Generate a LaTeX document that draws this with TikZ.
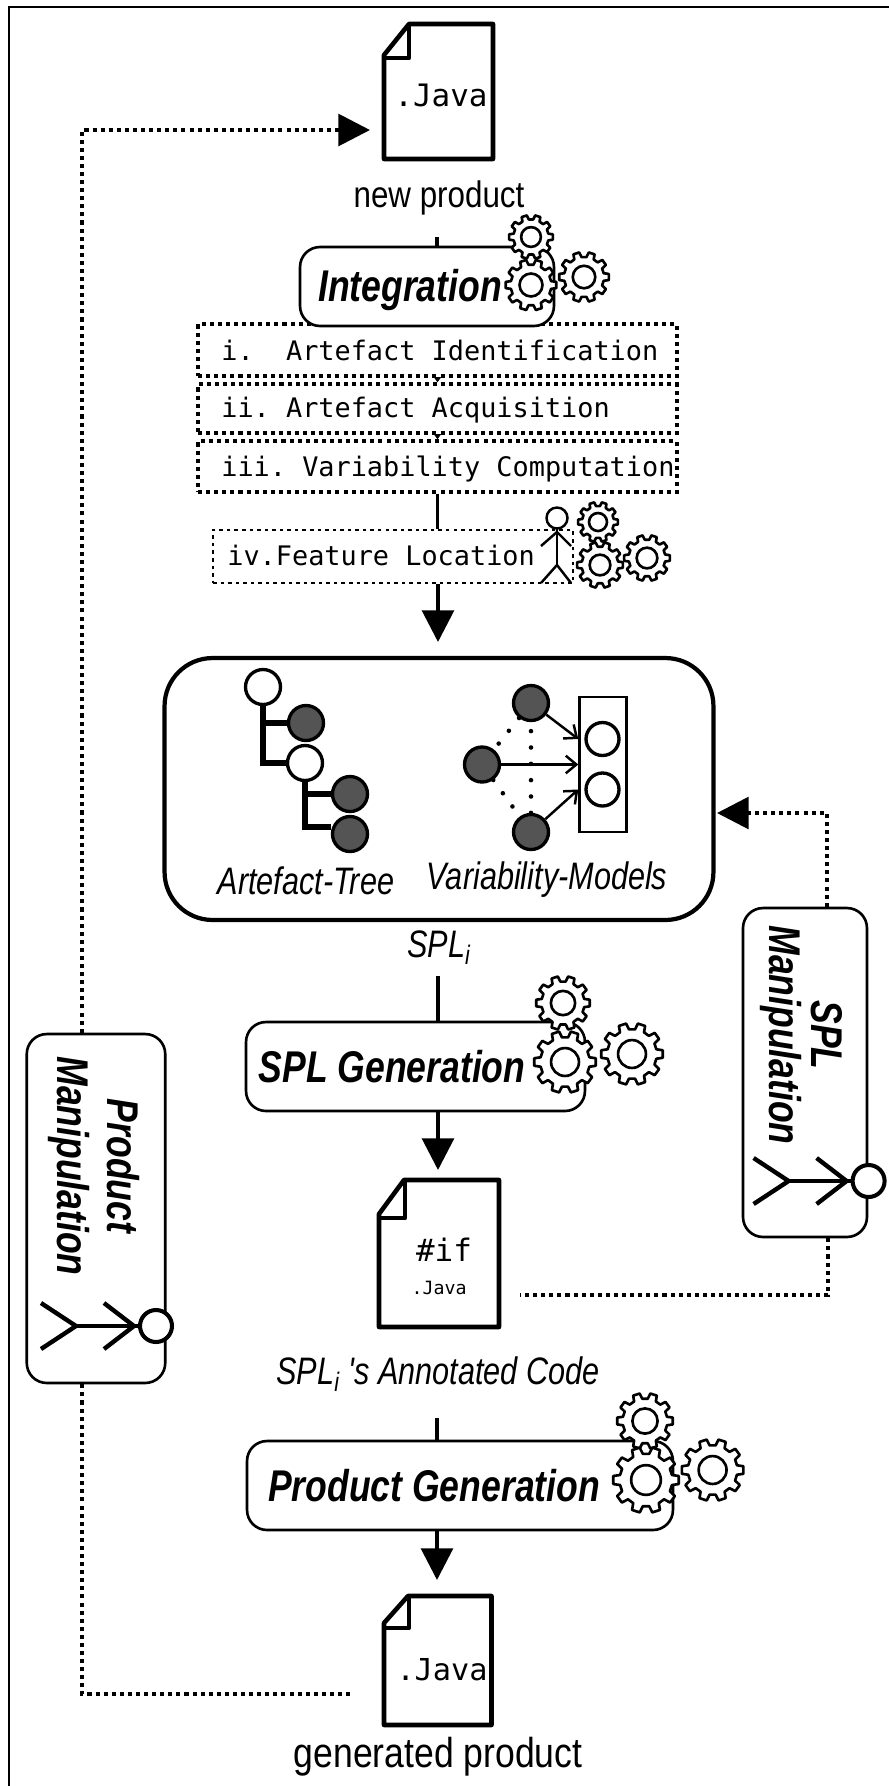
\documentclass[tikz,border=0pt]{standalone}
\usepackage{fontspec}
\usepackage{tikz}
\usetikzlibrary{positioning, calc, arrows.meta}
\newfontfamily\labfont[FakeStretch=0.8]{Liberation Sans}
\newfontfamily\plainfont[FakeStretch=0.85]{Liberation Sans}
\newfontfamily\codefont{DejaVu Sans Mono}
\frenchspacing

\tikzset{
    flowline/.style={line width=2.2pt},
    bigarrow/.style={flowline, -{Triangle[length=18pt,width=18pt]}},
    dotline/.style={line width=2.8pt, dash pattern=on 2.3pt off 2.3pt},
    procbox/.style={draw, fill=white, rounded corners=0.4cm, line width=1.5pt},
    stepbox/.style={draw, line width=1.9pt, dash pattern=on 2.3pt off 2.3pt},
    docline/.style={line width=2.6pt, line join=round},
    boldlab/.style={inner sep=0pt, align=center, font=\labfont\bfseries\itshape\fontsize{25.3}{28.5}\selectfont},
    itlab/.style={inner sep=0pt, font=\labfont\itshape\fontsize{21.8}{24}\selectfont},
    plainlab/.style={inner sep=0pt, font=\plainfont\fontsize{21}{24}\selectfont},
    steplab/.style={inner sep=0pt, anchor=west, font=\codefont\fontsize{15.3}{18}\selectfont},
    ball/.style={draw, circle, fill=ballgray, line width=1.9pt, minimum size=0.7cm, inner sep=0pt},
    hole/.style={ball, fill=white},
    gear/.pic={
        \draw[line width=1.5pt, fill=white, line join=round]
            (-25:0.8)
            \foreach \a in {0,36,...,324} {
                -- (\a-11:0.8) -- (\a-7:1) -- (\a+7:1) -- (\a+11:0.8) -- (\a+25:0.8)
            } -- cycle;
        \draw[line width=1.5pt] (0,0) circle (0.45);
    },
    actor/.pic={
        \draw[line width=2.5pt] (-16,0) -- (-80,0);
        \draw[line width=2.5pt] (-115,-23) -- (-80,0) -- (-115,23);
        \draw[line width=2.5pt] (-52,-23) -- (-22,0) -- (-52,23);
        \draw[line width=2.3pt, fill=white] (0,0) circle (16);
    }
}
\definecolor{ballgray}{gray}{0.33}

\begin{document}
\begin{tikzpicture}[x=0.02cm, y=-0.02cm]
    \useasboundingbox (0,0) rectangle (889,1786);

    % the frame
    \draw[line width=0.6pt] (9,1786) -- (9,7) -- (889,7);

    % new product file
    \draw[docline] (409,24) -- (493,24) -- (493,159) -- (384,159) -- (384,55) -- cycle;
    \draw[docline] (409,24) -- (409,58) -- (384,58);
    \node[inner sep=0pt, font=\codefont\fontsize{17.6}{20}\selectfont] (newjava) at (441,95) {.Java};
    \node[plainlab] (newlab) at (439,198) {new product};

    % integration steps
    \node[stepbox, minimum width=9.58cm, minimum height=1.04cm] (artid) at (437.5,350) {};
    \node[stepbox, minimum width=9.58cm, minimum height=0.98cm] (artacq) at (437.5,408.5) {};
    \node[stepbox, minimum width=9.58cm, minimum height=1.02cm] (varcomp) at (437.5,466.5) {};
    \node[stepbox, line width=1.6pt, dash pattern=on 2pt off 2.3pt, minimum width=7.2cm, minimum height=1.06cm] (featloc) at (393,556.5) {};
    \node[steplab] (artidlab) at (221,350) {i.~~Artefact Identification};
    \node[steplab] (artacqlab) at (221,410) {ii. Artefact Acquisition};
    \node[steplab] (varcomplab) at (221,469) {iii. Variability Computation};
    \node[steplab] (featloclab) at (227,555) {iv.Feature Location};
    \draw[line width=0.9pt, -{Triangle[length=3pt,width=4pt]}] (artid.south) -- (artacq.north);
    \draw[line width=0.9pt, -{Triangle[length=3pt,width=4pt]}] (artacq.south) -- (varcomp.north);

    % integration
    \coordinate (integin) at (437,237);
    \node[procbox, minimum width=5.08cm, minimum height=1.58cm] (integ) at (427,286.5) {};
    \node[boldlab] (integlab) at (410,290) {Integration};
    \draw[flowline] (integin) -- (integin |- integ.north);
    \pic[scale=22] at (531,237) {gear};
    \pic[scale=25.5] at (531,285) {gear};
    \pic[scale=25] at (584,277) {gear};

    % person and gears of feature location
    \draw[line width=1.4pt] (557,528) -- (557,565);
    \draw[line width=1.4pt] (541,546) -- (557,532) -- (571,546);
    \draw[line width=1.4pt] (541,583) -- (557,565) -- (571,583);
    \draw[line width=1.4pt] (557,518) circle (10.5);
    \pic[scale=20] at (598,522) {gear};
    \pic[scale=23] at (600,565) {gear};
    \pic[scale=23] at (647,558) {gear};

    \coordinate (coretip) at (438,642);
    \draw[flowline] (varcomp.south) -- (varcomp.south |- featloc.north);
    \draw[bigarrow] (coretip |- featloc.south) -- (coretip);

    % the product line
    \node[draw, line width=2.4pt, rounded corners=0.96cm, minimum width=10.98cm, minimum height=5.24cm] (core) at (439,789) {};

    % artefact tree
    \node[hole] (rootn) at (263,687) {};
    \node[ball] (leafa) at (306,723) {};
    \node[hole] (subn) at (305,763) {};
    \node[ball] (leafb) at (350,794) {};
    \node[ball] (leafc) at (350,834) {};
    \draw[line width=3.2pt] (rootn.south) |- (leafa.west);
    \draw[line width=3.2pt] (rootn.south) |- (subn.west);
    \draw[line width=3.2pt] (subn.south) |- (leafb.west);
    \draw[line width=3.2pt] (subn.south) |- ($(leafc.west)+(0,-7)$);
    \node[itlab] (treelab) at (306,881) {Artefact-Tree};

    % variability models
    \node[ball] (vtop) at (531,703) {};
    \node[ball] (vmid) at (482,764.5) {};
    \node[ball] (vbot) at (531,832) {};
    \node[draw, line width=1.4pt, minimum width=0.94cm, minimum height=2.71cm] (vrect) at (603,764.5) {};
    \node[hole, fill=white, minimum size=0.66cm] (vone) at (602.5,739) {};
    \node[hole, fill=white, minimum size=0.66cm] (vtwo) at (602.5,789.5) {};
    \draw[line width=2.6pt, line cap=round, dash pattern=on 0pt off 9.3pt] (vtop) -- (vmid) -- (vbot) -- (vtop);
    \draw[line width=1.4pt, -{Straight Barb[length=6pt,width=10pt]}] (vtop) -- (vrect.west |- vone);
    \draw[line width=1.4pt, -{Straight Barb[length=6pt,width=10pt]}] (vmid) -- (vmid -| vrect.west);
    \draw[line width=1.4pt, -{Straight Barb[length=6pt,width=10pt]}] (vbot) -- (vrect.west |- vtwo);
    \node[itlab] (modellab) at (547,880) {Variability-Models};

    \node[itlab] (spllab) at (439,948) {SPL\textsubscript{i}};

    % spl generation
    \coordinate (splin) at (438,976);
    \node[procbox, minimum width=6.78cm, minimum height=1.78cm] (splgen) at (415.5,1066.5) {};
    \node[boldlab] (splgenlab) at (392,1067) {SPL Generation};
    \draw[flowline] (splin) -- (splin |- splgen.north);
    \pic[scale=27] at (563,1003) {gear};
    \pic[scale=31] at (565,1062) {gear};
    \pic[scale=31] at (632,1054) {gear};
    \coordinate (annotip) at (438,1170);
    \draw[bigarrow] (annotip |- splgen.south) -- (annotip);

    % annotated code file
    \draw[docline] (404,1180) -- (499,1180) -- (499,1327) -- (379,1327) -- (379,1214) -- cycle;
    \draw[docline] (405,1180) -- (405,1218) -- (379,1218);
    \node[inner sep=0pt, font=\codefont\fontsize{17.6}{20}\selectfont] (iflab) at (444,1250) {\#if};
    \node[inner sep=0pt, font=\codefont\fontsize{10.4}{12}\selectfont] (annojava) at (439,1288) {.Java};
    \node[itlab] (annolab) at (438,1374) {SPL\textsubscript{i} 's Annotated Code};

    % product generation
    \coordinate (prodin) at (437,1418);
    \node[procbox, minimum width=8.52cm, minimum height=1.78cm] (prodgen) at (460,1485.5) {};
    \node[boldlab] (prodgenlab) at (434,1486) {Product Generation};
    \draw[flowline] (prodin) -- (prodin |- prodgen.north);
    \pic[scale=28] at (645,1421) {gear};
    \pic[scale=33] at (646,1480) {gear};
    \pic[scale=31] at (712.6,1470) {gear};
    \coordinate (gentip) at (437,1580);
    \draw[bigarrow] (gentip |- prodgen.south) -- (gentip);

    % generated file
    \draw[docline] (408,1596) -- (491.5,1596) -- (491.5,1725) -- (384,1725) -- (384,1623) -- cycle;
    \draw[docline] (409,1596) -- (409,1628) -- (384,1628);
    \node[inner sep=0pt, font=\codefont\fontsize{17.2}{20}\selectfont] (genjava) at (442,1670) {.Java};
    \node[plainlab, font=\plainfont\fontsize{23.8}{26}\selectfont] (genlab) at (438,1757) {generated product};

    % product manipulation
    \coordinate (newtip) at (370,130);
    \coordinate (genout) at (354,1694);
    \node[procbox, minimum width=2.77cm, minimum height=6.98cm] (prodman) at (96,1208.5) {};
    \node[boldlab, rotate=-90] (prodmanlab) at (94,1166) {Product\\Manipulation};
    \pic at (156,1326) {actor};
    \draw[dotline] ($(prodman.north)+(-14,0)$) |- ($(newtip)+(-24,0)$);
    \draw[bigarrow] ($(newtip)+(-32,0)$) -- (newtip);
    \draw[dotline] ($(prodman.south)+(-14,0)$) |- (genout);

    % spl manipulation
    \coordinate (coretipb) at (717,813);
    \coordinate (annoout) at (520,1295);
    \node[procbox, minimum width=2.48cm, minimum height=6.58cm] (splman) at (805,1072.5) {};
    \node[boldlab, rotate=-90] (splmanlab) at (801.5,1035) {SPL\\[-5pt]Manipulation};
    \pic at (868.6,1181) {actor};
    \draw[dotline] ($(splman.north)+(22,0)$) |- ($(coretipb)+(24,0)$);
    \draw[bigarrow] ($(coretipb)+(32,0)$) -- (coretipb);
    \draw[dotline, line width=2.1pt] ($(splman.south)+(23,0)$) |- (annoout);
\end{tikzpicture}
\end{document}
